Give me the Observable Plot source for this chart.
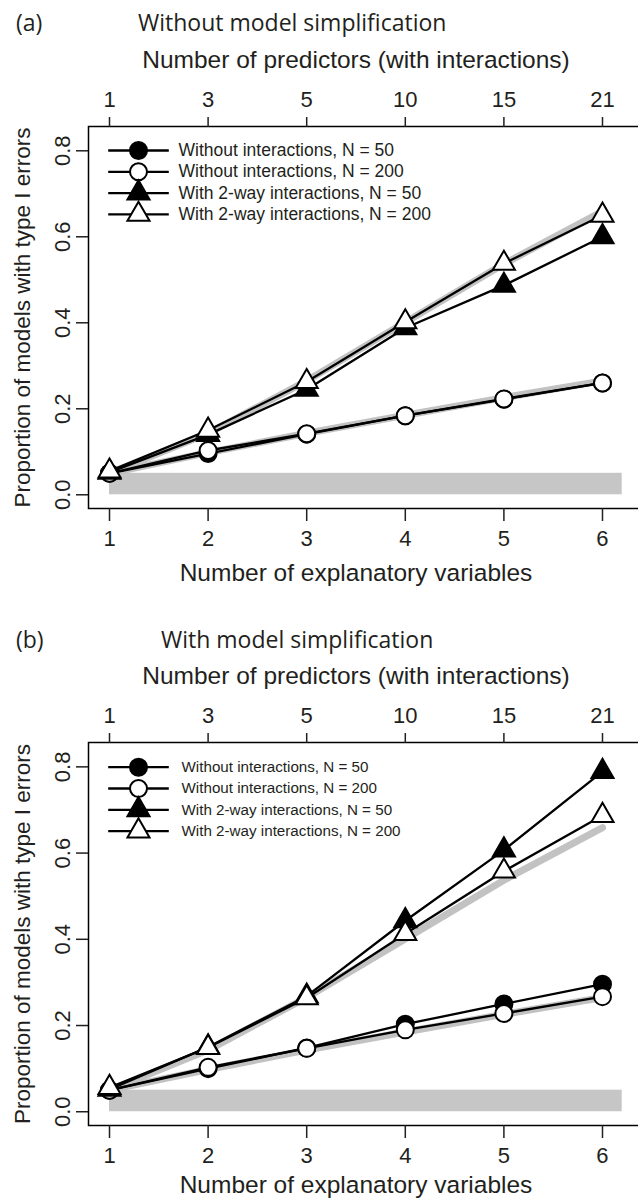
<!DOCTYPE html>
<html><head><meta charset="utf-8">
<script src="https://cdn.jsdelivr.net/npm/d3@7"></script>
<script src="https://cdn.jsdelivr.net/npm/@observablehq/plot@0.6"></script>
<style>
body{margin:0;background:#fff;}
#wrap{position:relative;width:638px;height:1201px;overflow:hidden;background:#fff;}
.panel{position:absolute;left:0;width:680px;overflow:hidden;}
.panel svg{max-width:none !important;}
.ptitle{position:absolute;font-family:"Open Sans",sans-serif;font-size:23px;line-height:1;white-space:nowrap;color:#231f20;}
</style></head><body>
<div id="wrap"></div>
<script>
// ---- data ----
const explanatory = [1, 2, 3, 4, 5, 6];
const predictorLabels = ["1", "3", "5", "10", "15", "21"];
const yTicks = [0, 0.2, 0.4, 0.6, 0.8];
const seriesNames = [
  "Without interactions, N = 50",
  "Without interactions, N = 200",
  "With 2-way interactions, N = 50",
  "With 2-way interactions, N = 200"
];
const expectedNoInt = [0.05, 0.098, 0.143, 0.185, 0.226, 0.265];
const expectedInt = [0.05, 0.143, 0.265, 0.401, 0.537, 0.659];
const bandX = [1, 6.2];
const bandY = [0, 0.05];

const aNoInt50  = [0.05, 0.096, 0.141, 0.184, 0.222, 0.26];
const aNoInt200 = [0.05, 0.103, 0.142, 0.184, 0.223, 0.26];
const aInt50    = [0.052, 0.14, 0.245, 0.388, 0.487, 0.6];
const aInt200   = [0.055, 0.15, 0.263, 0.402, 0.538, 0.65];

const bNoInt50  = [0.05, 0.10, 0.148, 0.203, 0.25, 0.296];
const bNoInt200 = [0.05, 0.103, 0.147, 0.19, 0.228, 0.267];
const bInt50    = [0.052, 0.15, 0.268, 0.443, 0.607, 0.789];
const bInt200   = [0.056, 0.149, 0.264, 0.413, 0.558, 0.687];

const xTitle = "Number of explanatory variables";
const topTitle = "Number of predictors (with interactions)";
const yTitle = "Proportion of models with type I errors";

// ---- styles per series ----
const styles = [
  {symbol: "circle", fill: "black"},
  {symbol: "circle", fill: "white"},
  {symbol: "triangle", fill: "black"},
  {symbol: "triangle", fill: "white"}
];
const segment = {draw(ctx) { ctx.moveTo(-30.3, 0); ctx.lineTo(30.3, 0); }};
const rFor = s => s === "circle" ? 8.5 : 8.2;

function makePanel(seriesValues, opts) {
  const rows = [];
  seriesValues.forEach((vals, i) => vals.forEach((v, j) =>
    rows.push({series: seriesNames[i], k: i, x: explanatory[j], y: v})));
  const expected = [];
  [expectedNoInt, expectedInt].forEach((vals, i) => vals.forEach((v, j) =>
    expected.push({kind: i, x: explanatory[j], y: v})));
  const band = [{x1: bandX[0], x2: bandX[1], y1: bandY[0], y2: bandY[1]}];

  const marks = [
    Plot.rect(band, {x1: "x1", x2: "x2", y1: "y1", y2: "y2", fill: "#c6c6c6"}),
    Plot.line(expected, {x: "x", y: "y", z: "kind", stroke: "#c2c2c2", strokeWidth: 7, strokeLinejoin: "round"})
  ];
  seriesNames.forEach((name, i) => {
    const sub = rows.filter(d => d.k === i);
    marks.push(Plot.line(sub, {x: "x", y: "y", stroke: "black", strokeWidth: 2.3}));
    marks.push(Plot.dot(sub, {x: "x", y: "y", symbol: styles[i].symbol, r: rFor(styles[i].symbol),
      fill: styles[i].fill, stroke: "black", strokeWidth: 2}));
  });
  // legend
  seriesNames.forEach((name, i) => {
    const dy = opts.legendTop + i * opts.legendStep;
    marks.push(Plot.dot([0], {frameAnchor: "top-left", dx: 50, dy, symbol: segment, fill: "none", stroke: "black", strokeWidth: 2.3}));
    marks.push(Plot.dot([0], {frameAnchor: "top-left", dx: 50, dy, symbol: styles[i].symbol, r: rFor(styles[i].symbol),
      fill: styles[i].fill, stroke: "black", strokeWidth: 2}));
    marks.push(Plot.text([name], {frameAnchor: "top-left", dx: opts.legendTextDx, dy, text: d => d,
      textAnchor: "start", lineAnchor: "middle", fontSize: opts.legendFont, fill: "#231f20"}));
  });
  // axes
  marks.push(
    Plot.frame({stroke: "black", strokeWidth: 1.5}),
    Plot.axisX({anchor: "bottom", ticks: explanatory, tickSize: 13, tickPadding: 9, strokeWidth: 1.5,
      tickFormat: d => String(d), label: null}),
    Plot.axisX({anchor: "top", ticks: explanatory, tickSize: 10, tickPadding: 10, strokeWidth: 1.5,
      tickFormat: d => predictorLabels[explanatory.indexOf(d)], label: null}),
    Plot.axisY({anchor: "left", ticks: yTicks, tickSize: 12, strokeWidth: 1.5, tickFormat: () => "", label: null}),
    Plot.text(yTicks, {y: d => d, text: d => d.toFixed(1), frameAnchor: "left", dx: -26, rotate: -90,
      textAnchor: "middle", lineAnchor: "middle", fontSize: 22}),
    Plot.text([yTitle], {text: d => d, frameAnchor: "left", dx: -65.5, rotate: -90,
      textAnchor: "middle", lineAnchor: "middle", fontSize: 22.5}),
    Plot.text([topTitle], {x: () => d3.mean(explanatory), text: d => d, frameAnchor: "top", dy: -66,
      textAnchor: "middle", lineAnchor: "middle", fontSize: 24.5}),
    Plot.text([xTitle], {x: () => d3.mean(explanatory), text: d => d, frameAnchor: "bottom", dy: opts.xTitleDy,
      textAnchor: "middle", lineAnchor: "middle", fontSize: 24.5})
  );

  return Plot.plot({
    width: 680,
    height: opts.height,
    marginLeft: 88,
    marginRight: 8,
    marginTop: opts.marginTop,
    marginBottom: opts.marginBottom,
    x: {domain: [0.787, 6.71]},
    y: {domain: [-0.0319, 0.8565]},
    style: {fontFamily: "'Liberation Sans', Arial, sans-serif", fontSize: "22px", color: "#231f20", background: "white", maxWidth: "none"},
    marks
  });
}

const wrap = document.getElementById("wrap");
function addPanel(top, height, svg, letter, title, titleLeft) {
  const div = document.createElement("div");
  div.className = "panel";
  div.style.top = top + "px";
  div.style.height = height + "px";
  div.appendChild(svg);
  wrap.appendChild(div);
  const l = document.createElement("div");
  l.className = "ptitle"; l.textContent = letter;
  l.style.left = "16px"; l.style.top = (top + 11) + "px";
  wrap.appendChild(l);
  const t = document.createElement("div");
  t.className = "ptitle"; t.textContent = title;
  t.style.left = titleLeft + "px"; t.style.top = (top + 11) + "px";
  wrap.appendChild(t);
}

const svgA = makePanel([aNoInt50, aNoInt200, aInt50, aInt200],
  {height: 617, marginTop: 126, marginBottom: 109, legendTop: 24, legendStep: 21.3, legendTextDx: 90, legendFont: 17.5, xTitleDy: 65});
const svgB = makePanel([bNoInt50, bNoInt200, bInt50, bInt200],
  {height: 584, marginTop: 125, marginBottom: 76, legendTop: 24.7, legendStep: 21.3, legendTextDx: 93, legendFont: 15.2, xTitleDy: 60});

addPanel(0, 617, svgA, "(a)", "Without model simplification", 138);
addPanel(617, 584, svgB, "(b)", "With model simplification", 161);
</script>
</body></html>
